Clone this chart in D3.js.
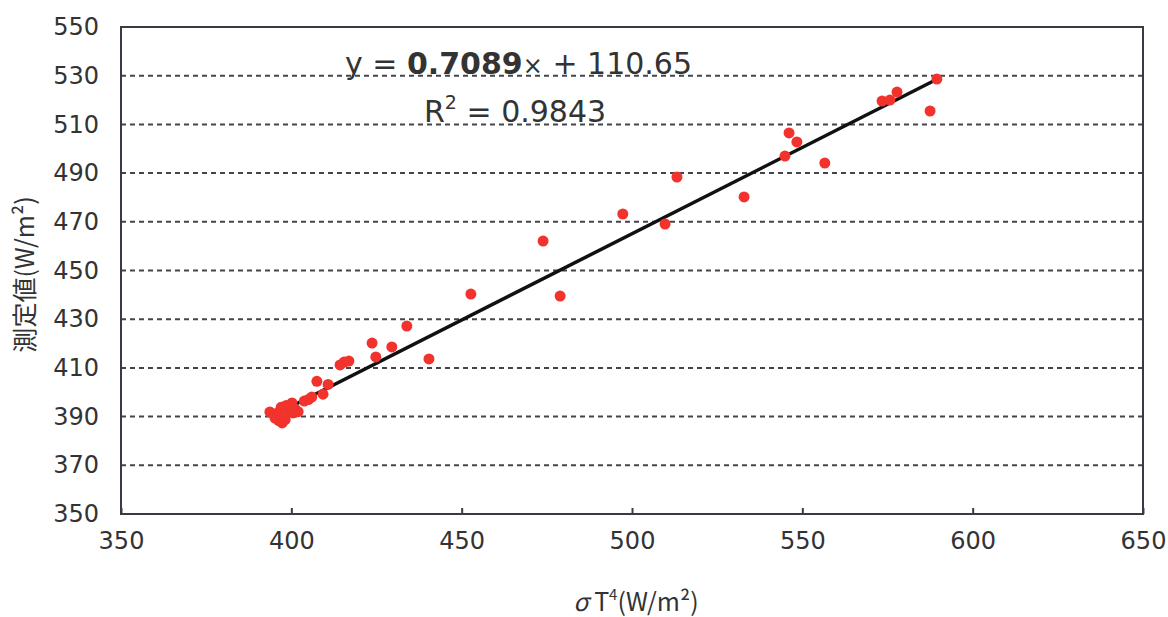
<!DOCTYPE html>
<html>
<head>
<meta charset="utf-8">
<script src="https://cdn.jsdelivr.net/npm/d3@7"></script>
<style>
  html, body { margin: 0; padding: 0; background: #fff; }
  svg { display: block; }
  text { font-family: "DejaVu Sans", "Noto Sans CJK JP", sans-serif; fill: #333; }
</style>
</head>
<body>
<svg id="chart" width="1168" height="617"></svg>
<script>
// σT^4 (W/m²) against measured value (W/m²)
const sigmaT4 = [393.7, 395.2, 396.3, 397.3, 398.2, 396.0, 397.0, 398.5, 399.0, 400.5,
                 401.2, 400.2, 402.0, 403.8, 405.0, 406.0, 407.5, 409.3, 410.8, 414.3,
                 415.5, 416.9, 423.7, 424.8, 429.5, 433.9, 440.4, 452.7, 473.9, 478.9,
                 497.3, 509.7, 513.2, 532.9, 544.9, 546.1, 548.4, 556.6, 573.4, 575.7,
                 577.8, 587.5, 589.5];
const measured = [391.9, 389.4, 388.4, 387.4, 388.8, 391.5, 393.8, 394.6, 391.9, 391.5,
                  393.0, 395.6, 392.0, 396.4, 397.0, 398.0, 404.5, 399.2, 403.2, 411.2,
                  412.4, 412.8, 420.2, 414.5, 418.6, 427.2, 413.7, 440.3, 462.1, 439.5,
                  473.2, 469.1, 488.4, 480.2, 497.0, 506.5, 502.8, 494.1, 519.6, 520.0,
                  523.3, 515.5, 528.6];

// Linear fit y = slope * x + intercept
const slope = 0.7089;
const intercept = 110.65;
const rSquared = "0.9843";

const xTicks = [350, 400, 450, 500, 550, 600, 650];
const yTicks = [350, 370, 390, 410, 430, 450, 470, 490, 510, 530, 550];
const gridTicks = [370, 390, 410, 430, 450, 470, 490, 510, 530];

const svg = d3.select("#chart");
const margin = { left: 121, right: 25, top: 27, bottom: 103 };
const W = 1168, H = 617;

const x = d3.scaleLinear().domain([350, 650]).range([margin.left, W - margin.right]);
const y = d3.scaleLinear().domain([350, 550]).range([H - margin.bottom, margin.top]);

// dashed horizontal gridlines
svg.append("g")
  .selectAll("line")
  .data(gridTicks)
  .join("line")
  .attr("x1", x(350)).attr("x2", x(650))
  .attr("y1", d => y(d)).attr("y2", d => y(d))
  .attr("stroke", "#44444f")
  .attr("stroke-width", 2)
  .attr("stroke-dasharray", "5,4");

// plot frame
svg.append("rect")
  .attr("x", x(350)).attr("y", y(550))
  .attr("width", x(650) - x(350)).attr("height", y(350) - y(550))
  .attr("fill", "none")
  .attr("stroke", "#3a3a45")
  .attr("stroke-width", 2);

// x axis: inward ticks, labels below
const xAxis = d3.axisBottom(x).tickValues(xTicks).tickSize(-6).tickPadding(18).tickFormat(d3.format("d"));
const gx = svg.append("g").attr("transform", `translate(0,${y(350)})`).call(xAxis);
gx.select(".domain").remove();
gx.selectAll(".tick line").attr("stroke", "#3a3a45").attr("stroke-width", 2);
gx.selectAll(".tick text").attr("font-size", 24).attr("fill", "#3a3a3a")
  .style("font-family", "'DejaVu Sans', sans-serif");

// y axis labels
const yAxis = d3.axisLeft(y).tickValues(yTicks).tickSize(0).tickPadding(22).tickFormat(d3.format("d"));
const gy = svg.append("g").attr("transform", `translate(${x(350)},0)`).call(yAxis);
gy.select(".domain").remove();
gy.selectAll(".tick text").attr("font-size", 24).attr("fill", "#3a3a3a")
  .style("font-family", "'DejaVu Sans', sans-serif");

// regression line across the data range
const xMin = d3.min(sigmaT4), xMax = d3.max(sigmaT4);
svg.append("line")
  .attr("x1", x(xMin)).attr("y1", y(slope * xMin + intercept))
  .attr("x2", x(xMax)).attr("y2", y(slope * xMax + intercept))
  .attr("stroke", "#111")
  .attr("stroke-width", 3.5);

// measured points
svg.append("g")
  .selectAll("circle")
  .data(sigmaT4.map((v, i) => [v, measured[i]]))
  .join("circle")
  .attr("cx", d => x(d[0]))
  .attr("cy", d => y(d[1]))
  .attr("r", 5.5)
  .attr("fill", "#f2332d");

// fit equation
const eq = svg.append("text")
  .attr("x", 345).attr("y", 74)
  .attr("font-size", 30)
  .attr("fill", "#2a2a2a");
eq.append("tspan").text("y = ");
eq.append("tspan").attr("font-weight", "bold").text(slope.toFixed(4));
eq.append("tspan").attr("font-size", 24).text("×");
eq.append("tspan").text(" + " + intercept.toFixed(2));

const r2 = svg.append("text")
  .attr("x", 424).attr("y", 122)
  .attr("font-size", 30)
  .attr("fill", "#2a2a2a");
r2.append("tspan").text("R");
r2.append("tspan").attr("font-size", 19).attr("dy", -13).text("2");
r2.append("tspan").attr("dy", 13).text(" = " + rSquared);

// axis titles
const xt = svg.append("text")
  .attr("x", 636).attr("y", 611)
  .attr("text-anchor", "middle")
  .attr("font-size", 25)
  .attr("fill", "#3a3a3a")
  .style("font-family", "'Noto Sans CJK JP', sans-serif");
xt.append("tspan").attr("font-style", "italic").text("σ");
xt.append("tspan").text(" T");
xt.append("tspan").attr("font-size", 15).attr("dy", -11).text("4");
xt.append("tspan").attr("dy", 11).text("(W/m²)");

svg.append("text")
  .attr("transform", `translate(34,${(y(350) + y(550)) / 2 + 4}) rotate(-90)`)
  .attr("text-anchor", "middle")
  .attr("font-size", 25)
  .attr("fill", "#3a3a3a")
  .style("font-family", "'Noto Sans CJK JP', sans-serif")
  .text("測定値(W/m²)");
</script>
</body>
</html>
